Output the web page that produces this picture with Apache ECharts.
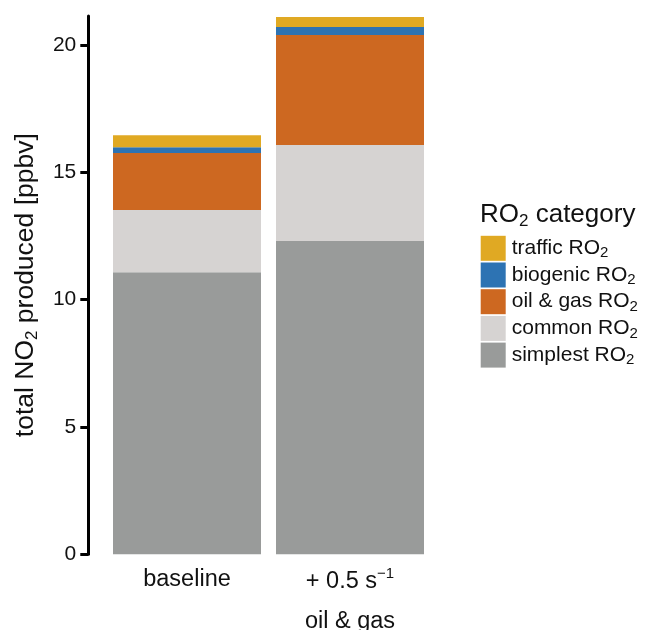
<!DOCTYPE html>
<html>
<head>
<meta charset="utf-8">
<script src="https://cdn.jsdelivr.net/npm/echarts@6/dist/echarts.min.js"></script>
<style>
html,body{margin:0;padding:0;background:#fff;}
#chart{width:648px;height:630px;}
</style>
</head>
<body>
<div id="chart"></div>
<script>
// ---- data ----
const categories = ['baseline', '+ 0.5 s^-1\noil & gas'];
const simplestRO2 = [11.08, 12.30];
const commonRO2   = [2.44, 3.77];
const oilGasRO2   = [2.24, 4.32];
const biogenicRO2 = [0.23, 0.32];
const trafficRO2  = [0.47, 0.39];
const yTicks = [0, 5, 10, 15, 20];
const seriesNames = ['simplest RO2', 'common RO2', 'oil & gas RO2', 'biogenic RO2', 'traffic RO2'];
const legendOrder = ['traffic RO2', 'biogenic RO2', 'oil & gas RO2', 'common RO2', 'simplest RO2'];
const colors = {
  'simplest RO2': '#999B9A',
  'common RO2': '#D6D3D2',
  'oil & gas RO2': '#CD6821',
  'biogenic RO2': '#2D73B3',
  'traffic RO2': '#E0A923'
};
const values = [simplestRO2, commonRO2, oilGasRO2, biogenicRO2, trafficRO2];

const FONT = 'Liberation Sans, Arial, Helvetica, sans-serif';
const chart = echarts.init(document.getElementById('chart'), null, {renderer: 'canvas'});

const series = seriesNames.map((n, i) => ({
  name: n,
  type: 'bar',
  stack: 'total',
  barWidth: 148,
  data: values[i],
  itemStyle: {color: colors[n]},
  emphasis: {disabled: true}
}));

chart.setOption({
  animation: false,
  textStyle: {fontFamily: FONT},
  grid: {left: 105.5, width: 326, top: 16, bottom: 75.7, containLabel: false, outerBoundsMode: 'none'},
  title: {
    text: '{a|RO}{s|2}{a| category}',
    left: 480, top: 199, padding: 0,
    textStyle: {
      fontFamily: FONT, fontWeight: 'normal',
      rich: {
        a: {fontSize: 26, color: '#111', fontFamily: FONT, fontWeight: 'normal'},
        s: {fontSize: 17, color: '#111', fontFamily: FONT, fontWeight: 'normal', padding: [14, 0, 0, 0]}
      }
    }
  },
  legend: {
    orient: 'vertical',
    left: 480.7, top: 235.8,
    padding: 0,
    itemWidth: 25, itemHeight: 25, itemGap: 1.7,
    icon: 'rect',
    selectedMode: false,
    data: legendOrder,
    formatter: name => '{a|' + name.slice(0, -1) + '}{s|' + name.slice(-1) + '}',
    textStyle: {
      padding: [0, 0, 0, 1],
      rich: {
        a: {fontSize: 21, color: '#111', fontFamily: FONT, lineHeight: 24},
        s: {fontSize: 15, color: '#111', fontFamily: FONT, padding: [10, 0, 0, 0]}
      }
    }
  },
  xAxis: {
    type: 'category',
    data: categories,
    axisLine: {show: false},
    axisTick: {show: false},
    axisLabel: {
      margin: 4,
      formatter: v => v.split('\n').map(line => {
        const m = line.match(/^(.*)\^(.*)$/);
        if (m) return '{b|' + m[1] + '}{sup|' + m[2].replace('-', '\u2212') + '}';
        return '{a|' + line + '}';
      }).join('\n'),
      rich: {
        a: {fontSize: 23.5, color: '#111', lineHeight: 42, fontFamily: FONT},
        b: {fontSize: 23.5, color: '#111', lineHeight: 42, fontFamily: FONT, padding: [5, 0, 0, 0]},
        sup: {fontSize: 15, color: '#111', fontFamily: FONT, padding: [0, 0, 10, 0]}
      }
    }
  },
  yAxis: {
    type: 'value',
    min: 0, max: 21.14, interval: 5,
    offset: 17.2,
    splitLine: {show: false},
    axisLine: {show: true, lineStyle: {color: '#000', width: 3}},
    axisTick: {show: true, length: 8, lineStyle: {color: '#000', width: 3}, customValues: yTicks},
    axisLabel: {fontSize: 21, color: '#111', margin: 12, customValues: yTicks, fontFamily: FONT},
    name: '{a|total NO}{s|2}{a| produced [ppbv]}',
    nameLocation: 'middle',
    nameGap: 47,
    nameRotate: 90,
    nameTextStyle: {
      rich: {
        a: {fontSize: 26.5, color: '#111', fontFamily: FONT},
        s: {fontSize: 17, color: '#111', fontFamily: FONT, padding: [14, 0, 0, 0]}
      }
    }
  },
  series: series
});
</script>
</body>
</html>
